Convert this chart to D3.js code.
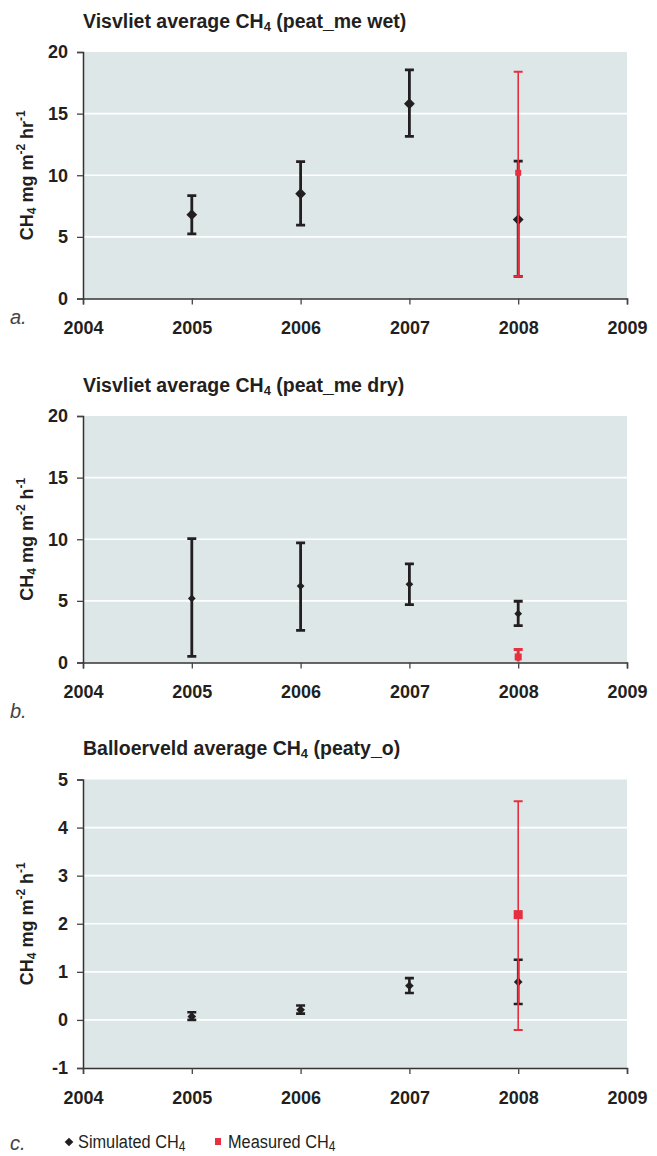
<!DOCTYPE html>
<html>
<head>
<meta charset="utf-8">
<script src="https://d3js.org/d3.v7.min.js"></script>
<style>
  body { margin: 0; background: #fff; }
  text { font-family: "Liberation Sans", Arial, sans-serif; }
</style>
</head>
<body>
<div id="chart"></div>
<script>
var years = [2005, 2006, 2007, 2008];
var xTicks = [2004, 2005, 2006, 2007, 2008, 2009];

// panel a - peat_me wet
var wetSim   = [6.8, 8.5, 15.8, 6.4];
var wetSimLo = [5.25, 5.95, 13.15, 1.8];
var wetSimHi = [8.35, 11.1, 18.55, 11.15];
var wetMeas  = [10.2], wetMeasLo = [1.8], wetMeasHi = [18.4];

// panel b - peat_me dry
var drySim   = [5.2, 6.2, 6.35, 3.96];
var drySimLo = [0.5, 2.6, 4.7, 3.0];
var drySimHi = [10.05, 9.7, 8.0, 4.97];
var dryMeas  = [0.45], dryMeasLo = [-0.2], dryMeasHi = [1.05];

// panel c - peaty_o
var peatySim   = [0.07, 0.21, 0.71, 0.79];
var peatySimLo = [0.0, 0.13, 0.56, 0.33];
var peatySimHi = [0.16, 0.3, 0.87, 1.25];
var peatyMeas  = [2.19], peatyMeasLo = [-0.21], peatyMeasHi = [4.55];
var measYear = [2008];

var yTicksAB = [0, 5, 10, 15, 20];
var yTicksC = [-1, 0, 1, 2, 3, 4, 5];

var bg = "#dde7e8", ink = "#231f20", red = "#e6303f";

var svg = d3.select("#chart").append("svg")
  .attr("width", 657).attr("height", 1156);

var x = d3.scaleLinear().domain([2004, 2009]).range([83, 627]);

function drawPanel(p) {
  var g = svg.append("g");
  var y = d3.scaleLinear().domain(p.domain).range([p.bottom, p.top]);

  g.append("rect")
    .attr("x", x(2004)).attr("y", p.top)
    .attr("width", x(2009) - x(2004)).attr("height", p.bottom - p.top)
    .attr("fill", bg);

  // gridlines
  g.selectAll(".grid").data(p.yTicks.slice(1, -1)).enter()
    .append("line")
    .attr("x1", x(2004)).attr("x2", x(2009))
    .attr("y1", function (d) { return y(d); }).attr("y2", function (d) { return y(d); })
    .attr("stroke", "#fff").attr("stroke-width", 1.6);

  var yAxis = g.append("g")
    .attr("transform", "translate(" + x(2004) + ",0)")
    .call(d3.axisLeft(y).tickValues(p.yTicks).tickSize(6).tickPadding(9).tickFormat(function (d) { return String(d); }));
  var xAxis = g.append("g")
    .attr("transform", "translate(0," + p.bottom + ")")
    .call(d3.axisBottom(x).tickValues(xTicks).tickSize(6).tickPadding(17).tickFormat(function (d) { return String(d); }));
  [yAxis, xAxis].forEach(function (a) {
    a.select(".domain").attr("stroke", "#333").attr("stroke-width", 1.5);
    a.selectAll(".tick line").attr("stroke", "#444").attr("stroke-width", 1.3);
    a.selectAll("text").attr("fill", ink).style("font-size", "18px").style("font-weight", "bold")
      .style("font-family", "'Liberation Sans', Arial, sans-serif");
  });

  // title
  var t = g.append("text")
    .attr("x", 83).attr("y", p.titleY)
    .attr("fill", ink).style("font-size", "19.5px").style("font-weight", "bold");
  t.append("tspan").text(p.title[0] + " CH");
  t.append("tspan").attr("dy", 3).style("font-size", "13px").text("4");
  t.append("tspan").attr("dy", -3).text(" " + p.title[1]);

  // y label
  var lab = g.append("text")
    .attr("transform", "translate(33," + ((p.top + p.bottom) / 2) + ") rotate(-90)")
    .attr("text-anchor", "middle")
    .attr("fill", ink).style("font-size", "18px").style("font-weight", "bold");
  lab.append("tspan").text("CH");
  lab.append("tspan").attr("dy", 3).style("font-size", "12px").text("4");
  lab.append("tspan").attr("dy", -3).text(" mg m");
  lab.append("tspan").attr("dy", -8).style("font-size", "12px").text("-2");
  lab.append("tspan").attr("dy", 8).text(" " + p.unit);
  lab.append("tspan").attr("dy", -8).style("font-size", "12px").text("-1");

  g.append("text")
    .attr("x", 10).attr("y", p.letterY)
    .attr("fill", "#444").style("font-size", "20px").style("font-style", "italic")
    .text(p.letter);

  var clipId = "clip" + p.letter[0];
  g.append("clipPath").attr("id", clipId).append("rect")
    .attr("x", x(2004)).attr("y", p.top)
    .attr("width", x(2009) - x(2004)).attr("height", p.bottom - p.top - 1);
  var marks = g.append("g").attr("clip-path", "url(#" + clipId + ")");

  // simulated error bars + diamonds
  var sim = years.map(function (d, i) { return { yr: d, v: p.sim[i], lo: p.simLo[i], hi: p.simHi[i] }; });
  errorBars(marks, sim, y, ink, p.simW, 9);
  marks.selectAll(".dia").data(sim).enter()
    .append("path")
    .attr("d", d3.symbol(d3.symbolDiamond2, p.diaSize))
    .attr("transform", function (d) { return "translate(" + x(d.yr) + "," + y(d.v) + ")"; })
    .attr("fill", ink);

  // measured
  var meas = measYear.map(function (d, i) { return { yr: d, v: p.meas[i], lo: p.measLo[i], hi: p.measHi[i] }; });
  errorBars(marks, meas, y, red, p.measW, 9);
  marks.selectAll(".sq").data(meas).enter()
    .append("rect")
    .attr("x", function (d) { return x(d.yr) - p.sq / 2; })
    .attr("y", function (d) { return y(d.v) - p.sq / 2; })
    .attr("width", p.sq).attr("height", p.sq)
    .attr("fill", red);
}

function errorBars(g, data, y, col, w, capW) {
  var e = g.append("g").selectAll("g").data(data).enter().append("g");
  e.append("line")
    .attr("x1", function (d) { return x(d.yr); }).attr("x2", function (d) { return x(d.yr); })
    .attr("y1", function (d) { return y(d.lo); }).attr("y2", function (d) { return y(d.hi); })
    .attr("stroke", col).attr("stroke-width", w);
  ["lo", "hi"].forEach(function (k) {
    e.append("line")
      .attr("x1", function (d) { return x(d.yr) - capW / 2; }).attr("x2", function (d) { return x(d.yr) + capW / 2; })
      .attr("y1", function (d) { return y(d[k]); }).attr("y2", function (d) { return y(d[k]); })
      .attr("stroke", col).attr("stroke-width", w < 2 ? 2 : w);
  });
}

drawPanel({ top: 52, bottom: 298.5, domain: [0, 20], yTicks: yTicksAB, titleY: 28,
  title: ["Visvliet average", "(peat_me wet)"], unit: "hr", letter: "a.", letterY: 324,
  sim: wetSim, simLo: wetSimLo, simHi: wetSimHi, meas: wetMeas, measLo: wetMeasLo, measHi: wetMeasHi,
  simW: 2.8, measW: 1.6, diaSize: 75, sq: 6 });

drawPanel({ top: 416, bottom: 662.5, domain: [0, 20], yTicks: yTicksAB, titleY: 392,
  title: ["Visvliet average", "(peat_me dry)"], unit: "h", letter: "b.", letterY: 718,
  sim: drySim, simLo: drySimLo, simHi: drySimHi, meas: dryMeas, measLo: dryMeasLo, measHi: dryMeasHi,
  simW: 2.8, measW: 3, diaSize: 38, sq: 7 });

drawPanel({ top: 779.5, bottom: 1068, domain: [-1, 5], yTicks: yTicksC, titleY: 755,
  title: ["Balloerveld average", "(peaty_o)"], unit: "h", letter: "c.", letterY: 1150,
  sim: peatySim, simLo: peatySimLo, simHi: peatySimHi, meas: peatyMeas, measLo: peatyMeasLo, measHi: peatyMeasHi,
  simW: 2.6, measW: 1.6, diaSize: 48, sq: 9 });

// legend
var leg = svg.append("g").attr("transform", "translate(0,1148)");
leg.append("path")
  .attr("d", d3.symbol(d3.symbolDiamond2, 48))
  .attr("transform", "translate(69,-6)")
  .attr("fill", ink);
leg.append("rect").attr("x", 215).attr("y", -10).attr("width", 6).attr("height", 7).attr("fill", red);
[{ x: 78, t: "Simulated CH" }, { x: 228, t: "Measured CH" }].forEach(function (d) {
  var t = leg.append("text")
    .attr("transform", "translate(" + d.x + ",0) scale(0.86,1)")
    .attr("fill", ink).style("font-size", "19px");
  t.append("tspan").text(d.t);
  t.append("tspan").attr("dy", 3).style("font-size", "14px").text("4");
});
</script>
</body>
</html>
